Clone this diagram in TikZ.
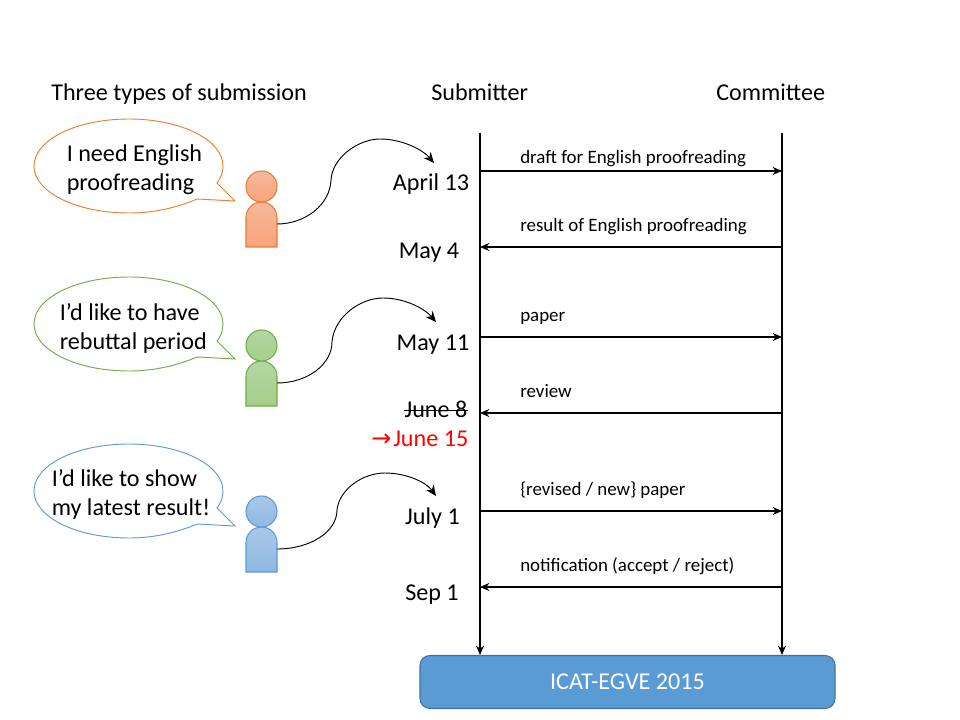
\documentclass[tikz,border=0pt]{standalone}
\usepackage{fontspec}
\setmainfont{Carlito}
\usetikzlibrary{arrows.meta}
\definecolor{orl}{HTML}{ED7D31}\definecolor{ort}{HTML}{F6B89C}\definecolor{orb}{HTML}{F7A47C}
\definecolor{grl}{HTML}{70AD47}\definecolor{grt}{HTML}{B5D6A2}\definecolor{grb}{HTML}{A5CE8A}
\definecolor{bll}{HTML}{5B9BD5}\definecolor{blt}{HTML}{A9C8E8}\definecolor{blb}{HTML}{8FB8E2}
\definecolor{boxf}{HTML}{5B9BD5}\definecolor{boxl}{HTML}{41719C}
\tikzset{
 x=0.75pt,y=-0.75pt,
 big/.style={font=\fontsize{18.1}{22}\selectfont,inner sep=0pt,text=black},
 small/.style={font=\fontsize{14.2}{17}\selectfont,inner sep=0pt,anchor=base west,text=black},
 saying/.style={font=\fontsize{18.1}{21.75}\selectfont,inner sep=0pt,align=left,anchor=west,text=black},
 bubble/.style={line width=0.7pt,fill=white},
 msg/.style={line width=1.1pt,-{Stealth[length=7pt,width=6pt]}},
 axisline/.style={line width=1.1pt,-{Stealth[length=7pt,width=6pt]}},
 curl/.style={line width=0.7pt,-{Stealth[length=8pt,width=7pt]}},
}
\newcommand{\speaker}[9]{% name, bubble offset, person offset, line, top, bottom, text, textx, texty
 \draw[bubble,draw=#4] (217,183+#2) -- (235,201+#2) -- (197,199+#2)
   .. controls (176,208+#2) and (153,213+#2) .. (129,213+#2)
   .. controls (76,213+#2) and (34,192+#2) .. (34,166+#2)
   .. controls (34,140+#2) and (76,119+#2) .. (129,119+#2)
   .. controls (181,119+#2) and (223,140+#2) .. (223,166+#2)
   .. controls (223,172+#2) and (221,178+#2) .. (217,183+#2) -- cycle;
 \node[saying] (#1say) at (#8,#9) {#7};
 \draw[draw=#4,line width=0.8pt,top color=#5,bottom color=#6] (246,247+#3) -- (246,217.5+#3) arc[start angle=180,end angle=360,radius=15.5] -- (277,247+#3) -- cycle;
 \draw[draw=#4,line width=0.8pt,top color=#5,bottom color=#6] (261.5,186.5+#3) circle[radius=15.5];
 \coordinate (#1hand) at (277,224+#3);
}
\begin{document}
\begin{tikzpicture}
\useasboundingbox (0,0) rectangle (960,720);

\node[big,anchor=base west] (ttl1) at (51,101) {Three types of submission};
\node[big,anchor=base west] (ttl2) at (431,101) {Submitter};
\node[big,anchor=base west] (ttl3) at (716,101) {Committee};

\speaker{a}{0}{0}{orl}{ort}{orb}{I need English\\proofreading}{66.5}{169.5}
\speaker{b}{158}{159}{grl}{grt}{grb}{I'd like to have\\rebuttal period}{59.5}{328.5}
\speaker{c}{325}{325}{bll}{blt}{blb}{I'd like to show\\my latest result!}{51.5}{494.5}

\node[big,anchor=base] (d1) at (431,191) {April 13};
\node[big,anchor=base] (d2) at (429,259) {May 4};
\node[big,anchor=base] (d3) at (433,350) {May 11};
\node[big,anchor=base] (d4b) at (436,417) {June 8};
\draw[line width=0.8pt] (d4b.west |- 0,410.5) -- (d4b.east |- 0,410.5);
\node[big,anchor=base west,text=red] (d5) at (371,446) {\fontspec{DejaVu Sans}\fontsize{18}{18}\selectfont →};
\node[big,anchor=base west,text=red] (d5b) at (393,446) {June 15};
\node[big,anchor=base] (d6) at (432.5,524) {July 1};
\node[big,anchor=base] (d7) at (432,600) {Sep 1};

\node[draw=boxl,fill=boxf,line width=0.8pt,rounded corners=7.5pt,minimum width=311.25pt,minimum height=39.75pt,inner sep=0pt,text=white,font=\fontsize{18.1}{22}\selectfont] (conf) at (627.5,682) {ICAT-EGVE 2015};

\coordinate (st) at (480,133);
\coordinate (ct) at (782,133);
\coordinate (sb) at (480,655);
\coordinate (cb) at (782,655);
\draw[axisline] (st) -- (sb);
\draw[axisline] (ct) -- (cb);

\foreach \nm/\yy in {p1/171,p2/247,p3/337,p4/413,p5/511,p6/587}{
 \coordinate (s\nm) at (480,\yy);
 \coordinate (c\nm) at (782,\yy);
}
\draw[msg] (sp1) -- (cp1);
\draw[msg] (cp2) -- (sp2);
\draw[msg] (sp3) -- (cp3);
\draw[msg] (cp4) -- (sp4);
\draw[msg] (sp5) -- (cp5);
\draw[msg] (cp6) -- (sp6);

\node[small] (m1) at (520,164) {draft for English proofreading};
\node[small] (m2) at (520,232) {result of English proofreading};
\node[small] (m3) at (520,321) {paper};
\node[small] (m4) at (520,397) {review};
\node[small] (m5) at (520,495) {\{revised / new\} paper};
\node[small] (m6) at (520,571) {notification (accept / reject)};

\coordinate (t1) at (434,163);
\coordinate (t2) at (436,322);
\coordinate (t3) at (436,496);
\draw[curl] (ahand) .. controls (305,224) and (330,205) .. (331,180)
  .. controls (332,158) and (358,139) .. (380,139) .. controls (401,139) and (422,149) .. (t1);
\draw[curl] (bhand) .. controls (308,383) and (332,364) .. (332,342)
  .. controls (334,317) and (360,298) .. (383,298) .. controls (404,298) and (424,308) .. (t2);
\draw[curl] (chand) .. controls (310,549) and (337,532) .. (337,510)
  .. controls (339,490) and (362,473) .. (385,473) .. controls (406,473) and (426,482) .. (t3);
\end{tikzpicture}
\end{document}
